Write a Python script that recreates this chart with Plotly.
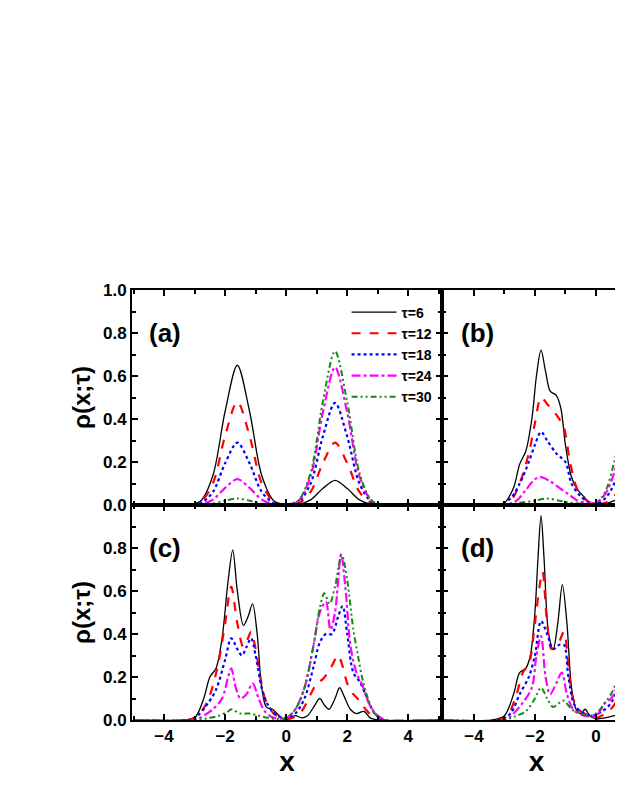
import plotly.graph_objects as go

taus = ["τ=6", "τ=12", "τ=18", "τ=24", "τ=30"]
colors = ["black", "red", "blue", "magenta", "#138a13"]
dashes = ["solid", "dash", "dot", "dashdot", "6px,3px,2px,3px,2px,3px"]
widths = [1.3, 2.2, 2.2, 2.2, 2.0]

# panel (a): shared x grid
xa = [-5, -3.2, -2.8, -2.4, -2.0, -1.6, -1.2, -0.8, -0.4, 0, 0.4, 0.8, 1.2, 1.6, 2.0, 2.4, 2.8, 3.2, 5]
a6 = [0, .001, .019, .137, .436, .65, .436, .137, .019, .002, .003, .024, .077, .115, .077, .024, .003, 0, 0]
a12 = [0, .001, .014, .101, .322, .48, .322, .101, .014, .002, .008, .061, .194, .29, .194, .061, .008, .001, 0]
a18 = [0, .001, .008, .061, .194, .29, .194, .061, .008, .002, .014, .1, .318, .475, .318, .1, .014, .001, 0]
a24 = [0, 0, .003, .025, .08, .12, .08, .025, .003, .002, .019, .134, .429, .64, .429, .134, .019, .001, 0]
a30 = [0, 0, .001, .006, .02, .03, .02, .006, .001, .002, .021, .15, .479, .715, .479, .15, .021, .001, 0]

# panel (b): (x, y) pairs per curve
b6 = [(-5, 0), (-3.4, 0), (-3.0, .01), (-2.7, .08), (-2.5, .19), (-2.3, .25), (-2.1, .4), (-1.95, .6), (-1.8, .72), (-1.65, .62), (-1.5, .53), (-1.3, .51), (-1.15, .45), (-1.0, .28), (-0.8, .13), (-0.6, .07), (-0.4, .04), (-0.2, .01), (0, 0), (0.3, .005), (0.6, .02), (0.9, .05), (1.2, .09), (1.5, .14)]
b12 = [(-5, 0), (-3.2, 0), (-2.8, .02), (-2.5, .1), (-2.2, .24), (-2.0, .38), (-1.8, .5), (-1.6, .47), (-1.3, .42), (-1.05, .36), (-0.85, .2), (-0.6, .07), (-0.3, .02), (0, .005), (0.3, .01), (0.6, .04), (0.9, .12), (1.2, .25), (1.5, .35)]
b18 = [(-5, 0), (-3.2, 0), (-2.8, .03), (-2.5, .1), (-2.2, .2), (-2.0, .28), (-1.8, .34), (-1.6, .3), (-1.3, .24), (-1.0, .2), (-0.8, .1), (-0.5, .04), (-0.2, .01), (0, .005), (0.3, .03), (0.6, .1), (0.9, .25), (1.2, .45), (1.5, .55)]
b24 = [(-5, 0), (-3.0, 0), (-2.6, .02), (-2.3, .07), (-2.0, .12), (-1.8, .13), (-1.5, .11), (-1.2, .08), (-0.9, .05), (-0.6, .02), (-0.3, .01), (0, .01), (0.3, .05), (0.6, .15), (0.9, .33), (1.2, .52), (1.5, .62)]
b30 = [(-5, 0), (-3.0, 0), (-2.5, .01), (-2.0, .02), (-1.6, .03), (-1.2, .02), (-0.8, .01), (-0.4, .005), (0, .01), (0.3, .06), (0.6, .2), (0.9, .4), (1.2, .58), (1.5, .68)]

# panel (c)
c6 = [(-5, 0), (-3.4, 0), (-3.0, .01), (-2.7, .1), (-2.5, .2), (-2.3, .24), (-2.1, .38), (-1.9, .65), (-1.75, .79), (-1.6, .6), (-1.4, .44), (-1.25, .48), (-1.1, .54), (-0.95, .4), (-0.8, .15), (-0.65, .06), (-0.45, .05), (-0.3, .03), (-0.1, .005), (0.1, .005), (0.3, .02), (0.5, .01), (0.7, .02), (0.9, .06), (1.1, .1), (1.25, .07), (1.4, .05), (1.6, .1), (1.75, .15), (1.9, .11), (2.1, .05), (2.3, .03), (2.55, .04), (2.75, .01), (3.0, 0), (5, 0)]
c12 = [(-5, 0), (-3.2, 0), (-2.9, .02), (-2.6, .08), (-2.4, .16), (-2.2, .28), (-2.0, .45), (-1.8, .62), (-1.6, .45), (-1.4, .34), (-1.25, .38), (-1.15, .41), (-1.0, .33), (-0.85, .2), (-0.65, .08), (-0.4, .03), (-0.1, .01), (0.2, .01), (0.5, .04), (0.8, .12), (1.0, .17), (1.2, .19), (1.45, .24), (1.7, .3), (1.85, .25), (2.0, .17), (2.2, .12), (2.4, .09), (2.6, .05), (2.9, .01), (3.2, 0), (5, 0)]
c18 = [(-5, 0), (-3.2, 0), (-2.9, .02), (-2.6, .07), (-2.3, .14), (-2.0, .28), (-1.8, .38), (-1.6, .33), (-1.45, .3), (-1.3, .34), (-1.15, .38), (-1.0, .3), (-0.8, .15), (-0.6, .07), (-0.3, .02), (0, .01), (0.3, .03), (0.6, .1), (0.9, .25), (1.1, .36), (1.3, .4), (1.5, .4), (1.7, .48), (1.85, .53), (2.0, .4), (2.2, .22), (2.4, .18), (2.6, .12), (2.9, .03), (3.2, 0), (5, 0)]
c24 = [(-5, 0), (-3.0, 0), (-2.7, .02), (-2.4, .05), (-2.1, .1), (-1.9, .2), (-1.8, .24), (-1.65, .15), (-1.5, .1), (-1.3, .12), (-1.1, .17), (-0.9, .1), (-0.7, .04), (-0.4, .01), (0, .01), (0.3, .05), (0.6, .15), (0.9, .35), (1.1, .5), (1.3, .55), (1.45, .42), (1.6, .5), (1.8, .77), (1.95, .6), (2.1, .35), (2.3, .22), (2.5, .16), (2.7, .08), (3.0, .02), (3.3, 0), (5, 0)]
c30 = [(-5, 0), (-3.0, 0), (-2.5, .01), (-2.2, .02), (-1.9, .04), (-1.8, .05), (-1.5, .03), (-1.2, .03), (-0.9, .02), (-0.6, .01), (-0.3, .005), (0, .01), (0.3, .05), (0.6, .15), (0.9, .35), (1.1, .52), (1.25, .59), (1.42, .54), (1.6, .62), (1.82, .77), (2.0, .65), (2.2, .42), (2.35, .3), (2.5, .19), (2.7, .09), (2.9, .03), (3.2, 0), (5, 0)]

# panel (d)
d6 = [(-5, 0), (-3.4, 0), (-3.0, .02), (-2.7, .12), (-2.5, .22), (-2.3, .24), (-2.15, .3), (-2.0, .5), (-1.9, .75), (-1.8, .95), (-1.7, .75), (-1.55, .4), (-1.4, .33), (-1.25, .45), (-1.1, .63), (-0.95, .45), (-0.8, .15), (-0.65, .05), (-0.5, .03), (-0.35, .05), (-0.2, .02), (0, .005), (0.3, .01), (0.6, .02), (0.9, .04), (1.2, .1), (1.5, .16)]
d12 = [(-5, 0), (-3.2, 0), (-2.9, .02), (-2.6, .12), (-2.4, .22), (-2.2, .26), (-2.0, .45), (-1.85, .62), (-1.75, .69), (-1.6, .45), (-1.45, .33), (-1.25, .35), (-1.05, .41), (-0.9, .25), (-0.75, .1), (-0.5, .04), (-0.2, .02), (0, .01), (0.3, .03), (0.6, .07), (0.9, .2), (1.2, .4), (1.5, .5)]
d18 = [(-5, 0), (-3.2, 0), (-2.8, .03), (-2.5, .12), (-2.2, .2), (-2.0, .3), (-1.8, .46), (-1.6, .4), (-1.4, .33), (-1.2, .35), (-1.05, .35), (-0.9, .2), (-0.7, .07), (-0.4, .03), (-0.1, .02), (0.2, .04), (0.5, .08), (0.8, .2), (1.1, .45), (1.4, .55)]
d24 = [(-5, 0), (-3.0, 0), (-2.7, .03), (-2.4, .08), (-2.1, .15), (-1.95, .3), (-1.8, .39), (-1.65, .2), (-1.5, .12), (-1.3, .17), (-1.12, .22), (-0.95, .12), (-0.75, .05), (-0.4, .02), (0, .02), (0.3, .08), (0.5, .1), (0.8, .2), (1.15, .45), (1.4, .58)]
d30 = [(-5, 0), (-3.0, 0), (-2.6, .02), (-2.3, .04), (-2.0, .1), (-1.8, .15), (-1.6, .1), (-1.4, .06), (-1.2, .08), (-1.05, .09), (-0.8, .05), (-0.5, .03), (-0.2, .02), (0, .03), (0.3, .08), (0.6, .15), (0.9, .35), (1.15, .62), (1.4, .72)]

panel_a = [list(zip(xa, s)) for s in (a6, a12, a18, a24, a30)]
panels = [
    ("x", "y", panel_a),
    ("x2", "y2", [b6, b12, b18, b24, b30]),
    ("x3", "y3", [c6, c12, c18, c24, c30]),
    ("x4", "y4", [d6, d12, d18, d24, d30]),
]

fig = go.Figure()
for pi, (xr, yr, curves) in enumerate(panels):
    for i, pts in enumerate(curves):
        fig.add_trace(go.Scatter(
            x=[p[0] for p in pts], y=[p[1] for p in pts], xaxis=xr, yaxis=yr,
            mode="lines", name=f"<b>{taus[i]}</b>", showlegend=(pi == 0),
            line=dict(color=colors[i], dash=dashes[i], width=widths[i], shape="spline", smoothing=0.9)))

font = "Liberation Sans, Arial, sans-serif"
xsplit = 0.621
tickfont = dict(family=font, size=17, color="black", weight="bold")
base = dict(showline=True, linewidth=2, linecolor="black", mirror="allticks",
            ticks="inside", ticklen=6, tickwidth=2, tickcolor="black",
            showgrid=False, zeroline=False, automargin=False, tickfont=tickfont)
xminor = dict(dtick=1, ticks="inside", ticklen=4, tickwidth=1.5, tickcolor="black")
yminor = dict(dtick=0.1, ticks="inside", ticklen=4, tickwidth=1.5, tickcolor="black")
ytitle = dict(text="<b>ρ(x;τ)</b>", font=dict(size=24, family=font), standoff=6)
xtitle = dict(text="<b>x</b>", font=dict(size=28, family=font), standoff=2)

fig.update_layout(
    width=623, height=806, plot_bgcolor="white", paper_bgcolor="white",
    margin=dict(l=124, r=0, t=282, b=94, autoexpand=False),
    font=dict(family=font, color="black"),
    legend=dict(x=0.43, y=0.985, xanchor="left", yanchor="top", bgcolor="rgba(0,0,0,0)",
                font=dict(family=font, size=14, color="black"), itemwidth=45,
                tracegroupgap=0, traceorder="normal"),
    xaxis=dict(domain=[0, xsplit], range=[-5.05, 5.1], anchor="y", dtick=2, showticklabels=False, minor=xminor, **base),
    yaxis=dict(domain=[0.5, 1], range=[0, 1.0], anchor="x", dtick=0.2, tickformat=".1f", title=ytitle, minor=yminor, **base),
    xaxis2=dict(domain=[xsplit, 1], range=[-5.05, 1.15], anchor="y2", dtick=2, showticklabels=False, minor=xminor, **base),
    yaxis2=dict(domain=[0.5, 1], range=[0, 1.0], anchor="x2", dtick=0.2, showticklabels=False, minor=yminor, **base),
    xaxis3=dict(domain=[0, xsplit], range=[-5.05, 5.1], anchor="y3", dtick=2, title=xtitle, minor=xminor, **base),
    yaxis3=dict(domain=[0, 0.5], range=[0, 1.0], anchor="x3", tickvals=[0, 0.2, 0.4, 0.6, 0.8], tickformat=".1f",
                title=ytitle, minor=yminor, **base),
    xaxis4=dict(domain=[xsplit, 1], range=[-5.05, 1.15], anchor="y4", dtick=2, title=xtitle, minor=xminor, **base),
    yaxis4=dict(domain=[0, 0.5], range=[0, 1.0], anchor="x4", dtick=0.2, showticklabels=False, minor=yminor, **base),
)

for xr, yr, lab in [("x", "y", "(a)"), ("x2", "y2", "(b)"), ("x3", "y3", "(c)"), ("x4", "y4", "(d)")]:
    fig.add_annotation(text=f"<b>{lab}</b>", xref=f"{xr} domain", yref=f"{yr} domain",
                       x=0.05 if xr in ("x", "x3") else 0.09, y=0.88, xanchor="left", yanchor="top",
                       showarrow=False, font=dict(family=font, size=26, color="black"))

fig.write_html("out.html")
